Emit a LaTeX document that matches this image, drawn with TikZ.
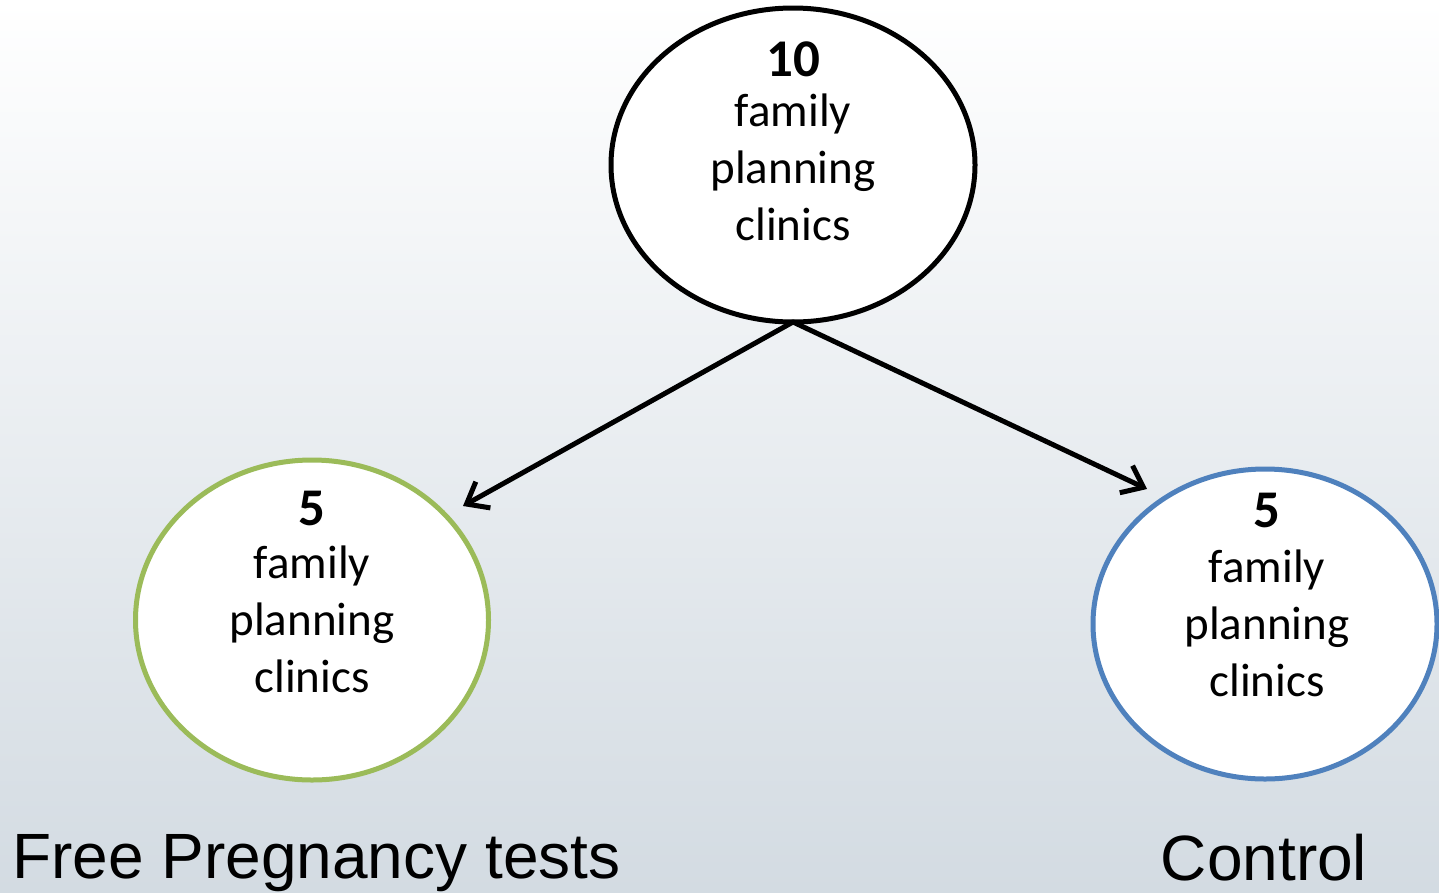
\documentclass[tikz,border=0pt]{standalone}
\usepackage{fontspec}
\setmainfont{Carlito}
\newfontfamily\labelfont{Liberation Sans}
\usetikzlibrary{shapes.geometric,arrows.meta}

\definecolor{bgbottom}{RGB}{211,219,226}
\definecolor{armgreen}{RGB}{155,187,89}
\definecolor{armblue}{RGB}{79,129,189}

\tikzset{
  clinic/.style={ellipse, draw, line width=5pt, fill=white, outer sep=0pt, inner sep=0pt},
  clinictext/.style={align=center, font=\fontsize{47}{57}\selectfont},
  arrowline/.style={line width=5pt, -{Straight Barb[length=19pt,width=30pt]}},
  armlabel/.style={font=\labelfont\fontsize{64}{70}\selectfont}
}
\newcommand{\clinicnum}[1]{{\bfseries\fontsize{53}{57}\selectfont #1}}

\begin{document}
\begin{tikzpicture}[x=1pt,y=-1pt,line join=round,line cap=round]

% background
\shade[top color=white, bottom color=bgbottom] (0,0) rectangle (1439,892);
\useasboundingbox (0,0) rectangle (1439,892);

% clinics
\node[clinic, minimum width=364pt, minimum height=314pt] (all) at (793,165) {};
\node[clinic, draw=armgreen, minimum width=353pt, minimum height=320pt] (treat) at (312,620) {};
\node[clinic, draw=armblue, minimum width=344pt, minimum height=310pt] (ctrl) at (1265,624) {};

\node[clinictext] (alltext) at (793,141) {\clinicnum{10}\\[-7pt] family\\ planning\\ clinics};
\node[clinictext] (treattext) at (312,592) {\clinicnum{5}\\[-4pt] family\\ planning\\ clinics};
\node[clinictext] (ctrltext) at (1267,595) {\clinicnum{5}\\[-2pt] family\\ planning\\ clinics};

% arrow ends
\coordinate (treattip) at (463,506);
\coordinate (ctrltip) at (1147,489);

\draw[arrowline] (all.south) -- (treattip);
\draw[arrowline] (all.south) -- (ctrltip);

% labels
\node[armlabel, anchor=base west, inner sep=0pt] (treatlabel) at (12,878) {Free Pregnancy tests};
\node[armlabel, anchor=base, inner sep=0pt] (ctrllabel) at (1264,880) {Control};

\end{tikzpicture}
\end{document}
